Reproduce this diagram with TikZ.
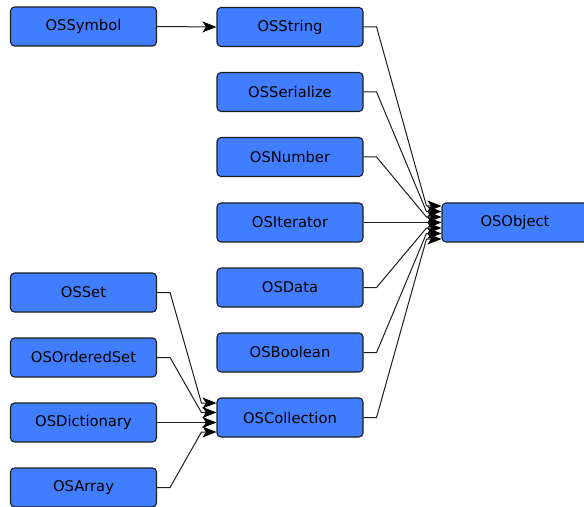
\documentclass[tikz,border=0pt]{standalone}
\usepackage{fontspec}
\setmainfont{DejaVu Sans}
\usetikzlibrary{arrows.meta,calc}
\definecolor{boxblue}{RGB}{64,126,255}
\definecolor{edgegray}{RGB}{30,30,30}
\begin{document}
\begin{tikzpicture}[x=1bp,y=-1bp,
  cls/.style={draw=edgegray, fill=boxblue, rounded corners=4bp, line width=1.1bp,
    minimum width=146bp, minimum height=39bp, inner sep=0pt,
    font=\fontsize{14.8}{16}\selectfont, text=black},
  link/.style={draw=edgegray, line width=1bp,
    -{Stealth[length=14bp,width=11bp,inset=3.5bp,fill=black,color=black]}},
]
\useasboundingbox (0,0) rectangle (584,507);
\clip (0,0) rectangle (584,507);

% root class
\node[cls] (OSObject) at (515,222.5) {OSObject};

% direct subclasses
\node[cls] (OSString)     at (290,27)    {OSString};
\node[cls] (OSSerialize)  at (290,92)    {OSSerialize};
\node[cls] (OSNumber)     at (290,157)   {OSNumber};
\node[cls] (OSIterator)   at (290,222.5) {OSIterator};
\node[cls] (OSData)       at (290,287.5) {OSData};
\node[cls] (OSBoolean)    at (290,352.5) {OSBoolean};
\node[cls] (OSCollection) at (290,417.5) {OSCollection};

% leaf classes
\node[cls] (OSSymbol)     at (83.5,26.5)  {OSSymbol};
\node[cls] (OSSet)        at (83.5,292.5) {OSSet};
\node[cls] (OSOrderedSet) at (83.5,357.5) {OSOrderedSet};
\node[cls] (OSDictionary) at (83.5,422.5) {OSDictionary};
\node[cls] (OSArray)      at (83.5,487.5) {OSArray};

% inheritance links
\draw[link] (OSSymbol.east) -- (OSString.west);

\foreach \s/\d in {OSString/-16.5, OSSerialize/-11, OSNumber/-5.5, OSIterator/0,
                   OSData/5.5, OSBoolean/11, OSCollection/16.5}
  \draw[link] (\s.east) -- ++(13,0) -- ($(OSObject.west)+(-15,\d)$)
              -- ($(OSObject.west)+(0,\d)$);

\foreach \s/\d in {OSSet/-14.5, OSOrderedSet/-5, OSDictionary/5, OSArray/14.5}
  \draw[link] (\s.east) -- ++(13,0) -- ($(OSCollection.west)+(-15,\d)$)
              -- ($(OSCollection.west)+(0,\d)$);
\end{tikzpicture}
\end{document}
